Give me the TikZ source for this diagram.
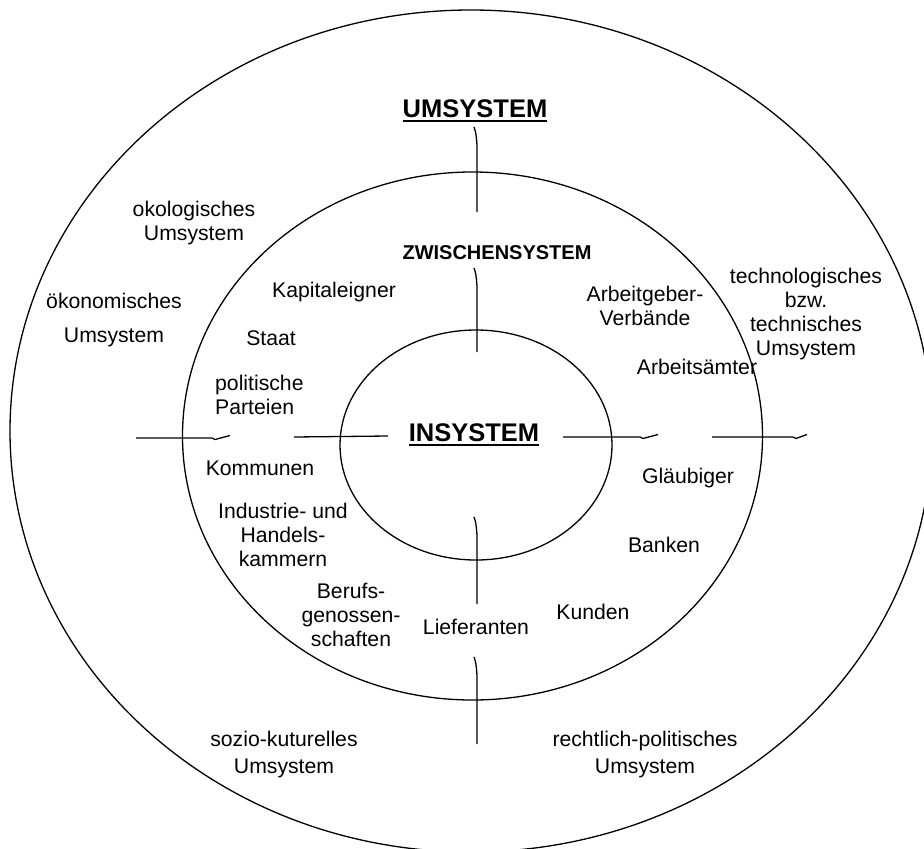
\documentclass[tikz,border=0pt]{standalone}
\usepackage{fontspec}
\setmainfont{Liberation Sans}
\begin{document}
\begin{tikzpicture}[x=1pt,y=-1pt,
  ring/.style={draw=black,line width=1.3pt},
  cut/.style={draw=black,line width=1.3pt,line join=round},
  lbl/.style={align=center,inner sep=0pt,font=\fontsize{21.2}{23.8}\selectfont},
  titlebig/.style={inner sep=0pt,anchor=base,font=\fontsize{25.5}{28}\selectfont\bfseries},
  titlemid/.style={inner sep=0pt,font=\fontsize{20}{24}\selectfont\bfseries},
  uline/.style={draw=black,line width=2.4pt}]
\useasboundingbox (0,0) rectangle (924,849);
% ellipses
\draw[ring] (471,431) ellipse [x radius=461pt, y radius=421pt];
\draw[ring] (472.5,436) ellipse [x radius=290pt, y radius=264pt];
\draw[ring] (476,445) ellipse [x radius=136pt, y radius=115pt];
% vertical cut marks
\draw[cut] (474,127) .. controls (476,133) .. (477,145) -- (477,212);
\draw[cut] (474,268) .. controls (476,274) .. (477,286) -- (477,352);
\draw[cut] (474,517) .. controls (476,523) .. (477,535) -- (477,604);
\draw[cut] (474,657) .. controls (476,663) .. (477,675) -- (477,744);
% horizontal cut marks
\draw[cut] (136,438) -- (212,438) -- (215,439.5) -- (230,435.5);
\draw[cut] (294,437) -- (388,436);
\draw[cut] (563,437) -- (640,437) -- (643,438.5) -- (658,434.5);
\draw[cut] (712,437) -- (793,437) -- (796,438.5) -- (807,434.5);
% titles
\node[titlebig] (um) at (475,117) {UMSYSTEM};
\draw[uline] ([yshift=-4pt]um.base west) -- ([yshift=-4pt]um.base east);
\node[titlemid] (zw) at (497,253) {ZWISCHENSYSTEM};
\node[titlebig] (in) at (474,441) {INSYSTEM};
\draw[uline] ([yshift=-4pt]in.base west) -- ([yshift=-4pt]in.base east);
% outer labels
\node[lbl] (oko) at (194,223) {okologisches\\Umsystem};
\node[lbl,font=\fontsize{21.2}{34}\selectfont] (oek) at (114,320) {ökonomisches\\Umsystem};
\node[lbl] (tech) at (806,314) {technologisches\\bzw.\\technisches\\Umsystem};
\node[lbl,font=\fontsize{21.2}{27}\selectfont] (soz) at (284,755) {sozio-kuturelles\\Umsystem};
\node[lbl,font=\fontsize{21.2}{27}\selectfont] (recht) at (645,755) {rechtlich-politisches\\Umsystem};
% middle labels
\node[lbl] (kap) at (334,292) {Kapitaleigner};
\node[lbl] (staat) at (271,338) {Staat};
\node[lbl,align=left,anchor=west] (pol) at (215,395) {politische\\Parteien};
\node[lbl] (kom) at (260,468) {Kommunen};
\node[lbl] (ihk) at (283,535) {Industrie- und\\Handels-\\kammern};
\node[lbl] (beruf) at (351,615) {Berufs-\\genossen-\\schaften};
\node[lbl] (lief) at (476,627) {Lieferanten};
\node[lbl] (kun) at (593,612) {Kunden};
\node[lbl] (bank) at (664,545) {Banken};
\node[lbl] (glau) at (688,478) {Gläubiger};
\node[lbl] (amt) at (697,367) {Arbeitsämter};
\node[lbl] (agv) at (645,306) {Arbeitgeber-\\Verbände};
\end{tikzpicture}
\end{document}
